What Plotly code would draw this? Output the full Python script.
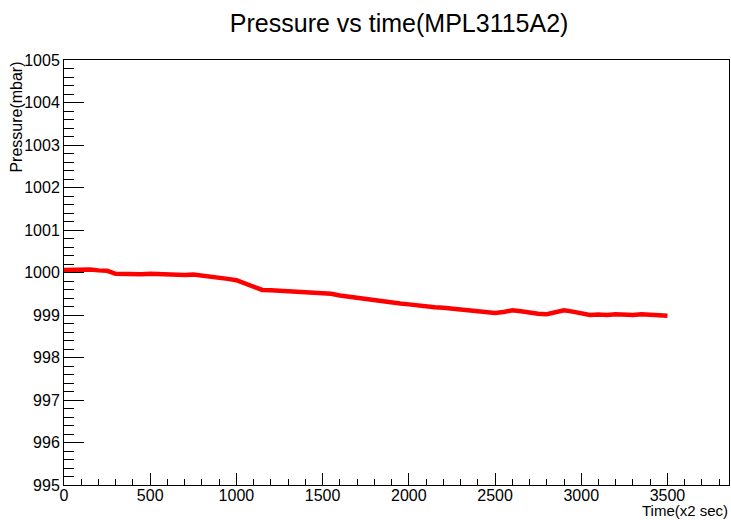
import plotly.graph_objects as go

time_x2sec = [0, 50, 100, 150, 200, 250, 300, 350, 400, 450, 500, 550, 600, 650, 700, 750,
              800, 850, 900, 950, 1000, 1050, 1100, 1150, 1200, 1250, 1300, 1350, 1400, 1450,
              1500, 1550, 1600, 1650, 1700, 1750, 1800, 1850, 1900, 1950, 2000, 2050, 2100,
              2150, 2200, 2250, 2300, 2350, 2400, 2450, 2500, 2550, 2600, 2650, 2700, 2750,
              2800, 2850, 2900, 2950, 3000, 3050, 3100, 3150, 3200, 3250, 3300, 3350, 3400,
              3450, 3500]
pressure_mbar = [1000.06, 1000.07, 1000.06, 1000.07, 1000.05, 1000.04, 999.97, 999.96, 999.97,
                 999.96, 999.97, 999.96, 999.95, 999.96, 999.94, 999.95, 999.93, 999.90, 999.88,
                 999.85, 999.82, 999.74, 999.65, 999.59, 999.58, 999.57, 999.57, 999.55, 999.54,
                 999.53, 999.52, 999.50, 999.46, 999.43, 999.40, 999.37, 999.35, 999.31, 999.29,
                 999.27, 999.25, 999.22, 999.20, 999.18, 999.17, 999.15, 999.13, 999.12, 999.10,
                 999.07, 999.05, 999.07, 999.11, 999.09, 999.05, 999.03, 999.02, 999.06, 999.11,
                 999.08, 999.03, 999.00, 999.01, 999.00, 999.02, 999.01, 999.00, 999.02, 999.00,
                 998.99, 998.98]

FONT = "Liberation Sans, Arial, sans-serif"

fig = go.Figure()
fig.add_trace(go.Scatter(x=time_x2sec, y=pressure_mbar, mode="lines",
                         line=dict(color="#ff0000", width=4.5), showlegend=False))

fig.update_layout(
    width=731, height=520,
    margin=dict(l=64, r=2, t=60, b=35, autoexpand=False),
    paper_bgcolor="white", plot_bgcolor="white",
    font=dict(family=FONT, size=16, color="black"),
    title=dict(text="Pressure vs time(MPL3115A2)", x=0.546, xanchor="center",
               y=0.955, yanchor="middle", yref="container",
               font=dict(family=FONT, size=25, color="black")),
    xaxis=dict(range=[0, 3857], showgrid=False, zeroline=False, automargin=False,
               showline=True, linecolor="black", linewidth=1, mirror=True,
               ticks="inside", tickcolor="black", ticklen=12, dtick=500, tick0=0,
               ticklabelstandoff=-4,
               minor=dict(ticks="inside", dtick=100, ticklen=6, tickcolor="black", showgrid=False),
               tickfont=dict(family=FONT, size=16, color="black")),
    yaxis=dict(range=[995, 1005], showgrid=False, zeroline=False, automargin=False,
               showline=True, linecolor="black", linewidth=1, mirror=True,
               ticks="inside", tickcolor="black", ticklen=20, dtick=1, tick0=995,
               minor=dict(ticks="inside", dtick=0.2, ticklen=10, tickcolor="black", showgrid=False),
               tickfont=dict(family=FONT, size=16, color="black")),
    annotations=[
        dict(text="Time(x2 sec)", xref="paper", yref="paper", x=1.0, y=-0.0824,
             xanchor="right", yanchor="bottom", showarrow=False, borderpad=0,
             font=dict(family=FONT, size=15, color="black")),
        dict(text="Pressure(mbar)", xref="paper", yref="paper", x=-0.072, y=1.0,
             xanchor="center", yanchor="top", showarrow=False, textangle=-90,
             font=dict(family=FONT, size=16, color="black")),
    ],
)

fig.write_html("out.html", config={"displayModeBar": False},
               post_script="document.body.style.margin='0';")
